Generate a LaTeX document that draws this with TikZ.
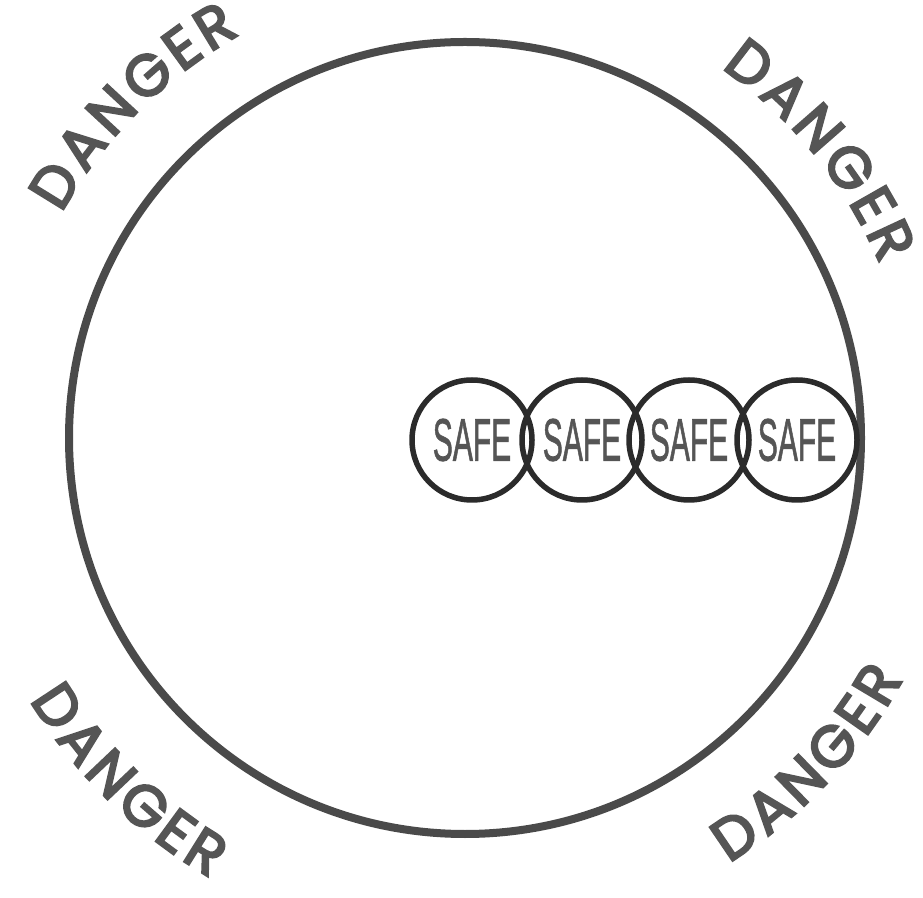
\documentclass[tikz,border=0pt]{standalone}
\usepackage{fontspec}
\usepackage{graphicx}
\usetikzlibrary{decorations.text}
\newfontfamily\dngfam{Poppins}[FakeBold=4]
\newfontfamily\safefam{Liberation Sans}[FakeBold=1.5]
\newcommand\dangerfont{\dngfam\fontsize{58}{58}\selectfont}
\definecolor{ink}{HTML}{2B2B2B}
\definecolor{rim}{HTML}{4A4A4A}
\definecolor{word}{HTML}{555555}

\begin{document}
\begin{tikzpicture}[x=1pt, y=1pt, safe/.style={circle, draw=ink, line width=5.5pt, minimum size=120pt, inner sep=0pt, text=word, font=\safefam\fontsize{60}{60}\selectfont}, warn/.style={decorate, decoration={text along path, text={|\dangerfont|D{\kern5pt}A{\kern5pt}N{\kern5pt}G{\kern5pt}E{\kern5pt}R}, text align=center, text color=word}}]
\useasboundingbox (0,0) rectangle (923,897);
\coordinate (mid) at (465,459);
\draw[rim, line width=8pt] (mid) circle[radius=396pt];
\foreach \i/\x in {1/472, 2/582, 3/689, 4/797}{\node[safe] (safe\i) at (\x,457) {\scalebox{0.5}[1]{SAFE}};}
% outside labels, baseline on an arc round the big circle
\foreach \s/\e/\r in {152/118/462, 57/21/450, 207/244/508, -62/-25/500}{\path[warn] (mid) ++(\s:\r pt) arc[start angle=\s, end angle=\e, radius=\r pt];}
\end{tikzpicture}
\end{document}
